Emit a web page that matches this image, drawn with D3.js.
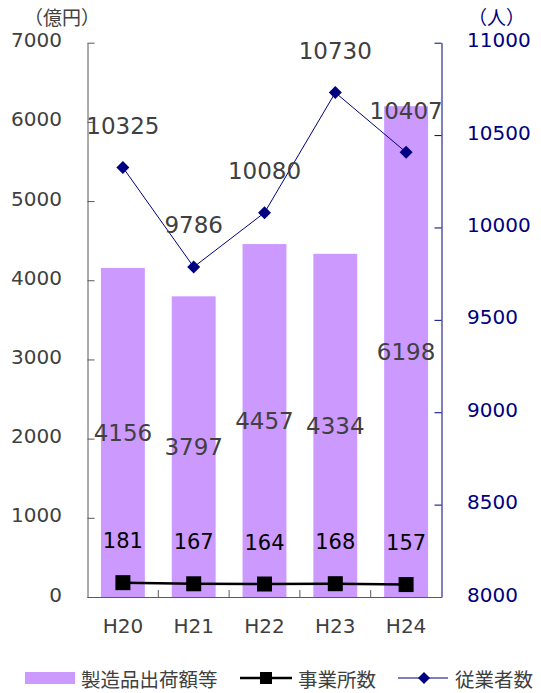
<!DOCTYPE html>
<html><head><meta charset="utf-8">
<script src="https://cdn.jsdelivr.net/npm/d3@7"></script>
<style>html,body{margin:0;padding:0;background:#fff;}</style>
</head><body>
<svg id="chart" width="541" height="693"></svg>
<script>
const categories = ["H20","H21","H22","H23","H24"];
const shipments = [4156, 3797, 4457, 4334, 6198];   // 製造品出荷額等 (億円)
const offices = [181, 167, 164, 168, 157];          // 事業所数
const employees = [10325, 9786, 10080, 10730, 10407]; // 従業者数 (人)
const leftTicks = [0,1000,2000,3000,4000,5000,6000,7000];
const rightTicks = [8000,8500,9000,9500,10000,10500,11000];
const seriesNames = ["製造品出荷額等","事業所数","従業者数"];

const svg = d3.select("#chart");
const L = 87.5, R = 441.5, T = 42.7, B = 597;
const NUM = "'DejaVu Sans', Verdana, sans-serif";
const CJK = "'Noto Sans CJK JP', sans-serif";
const GREY = "#404040", NAVY = "#000080", BAR = "#CC99FF";

const x = d3.scaleBand().domain(categories).range([L, R]).paddingInner(0.38).paddingOuter(0.19);
const yL = d3.scaleLinear().domain([0, 7000]).range([B, T]);
const yR = d3.scaleLinear().domain([8000, 11000]).range([B, T]);
const cx = c => x(c) + x.bandwidth() / 2;

// bars
svg.append("g").selectAll("rect").data(categories).join("rect")
  .attr("x", c => x(c)).attr("width", x.bandwidth())
  .attr("y", (c, i) => yL(shipments[i])).attr("height", (c, i) => B - yL(shipments[i]))
  .attr("fill", BAR);

// left axis
const gl = svg.append("g").attr("transform", `translate(${L},0)`)
  .call(d3.axisLeft(yL).tickValues(leftTicks).tickFormat(d3.format("d")).tickSizeInner(-7).tickSizeOuter(0).tickPadding(25.5));
gl.select(".domain").attr("stroke", "#595959");
gl.selectAll(".tick line").attr("stroke", "#595959");
gl.selectAll(".tick text").attr("fill", GREY).attr("font-family", NUM).attr("font-size", 20).attr("dy", "0.2em");

// right axis
const gr = svg.append("g").attr("transform", `translate(${R},0)`)
  .call(d3.axisRight(yR).tickValues(rightTicks).tickFormat(d3.format("d")).tickSizeInner(-7).tickSizeOuter(0).tickPadding(25.5));
gr.select(".domain").attr("stroke", NAVY);
gr.selectAll(".tick line").attr("stroke", NAVY);
gr.selectAll(".tick text").attr("fill", NAVY).attr("font-family", NUM).attr("font-size", 20).attr("dy", "0.2em");

// bottom axis
const gb = svg.append("g").attr("transform", `translate(0,${B})`)
  .call(d3.axisBottom(x).tickSize(0).tickPadding(22));
gb.select(".domain").attr("stroke", "#595959").attr("d", `M${L},0.5H${R}`);
gb.selectAll(".tick text").attr("fill", GREY).attr("font-family", NUM).attr("font-size", 20).attr("dy", "0.71em");
// category separator ticks (inward)
svg.append("g").selectAll("line").data(categories.slice(1)).join("line")
  .attr("x1", c => x(c) - x.step() * x.paddingInner() / 2)
  .attr("x2", c => x(c) - x.step() * x.paddingInner() / 2)
  .attr("y1", B).attr("y2", B - 7).attr("stroke", "#595959");

// unit titles
svg.append("text").attr("x", 62).attr("y", 16.5).attr("text-anchor", "middle").attr("dominant-baseline", "central")
  .attr("font-family", CJK).attr("font-size", 19).attr("fill", GREY).text("（億円）");
svg.append("text").attr("x", 496.5).attr("y", 16.5).attr("text-anchor", "middle").attr("dominant-baseline", "central")
  .attr("font-family", CJK).attr("font-size", 19).attr("fill", NAVY).text("（人）");

// offices line
const lineO = d3.line().x((d, i) => cx(categories[i])).y(d => yL(d));
svg.append("path").datum(offices).attr("d", lineO).attr("fill", "none").attr("stroke", "#000").attr("stroke-width", 2.5);
svg.append("g").selectAll("rect").data(offices).join("rect")
  .attr("x", (d, i) => cx(categories[i]) - 7.5).attr("y", d => yL(d) - 7.5)
  .attr("width", 15).attr("height", 15).attr("fill", "#000");

// employees line
const lineE = d3.line().x((d, i) => cx(categories[i])).y(d => yR(d));
svg.append("path").datum(employees).attr("d", lineE).attr("fill", "none").attr("stroke", NAVY).attr("stroke-width", 1);
const diamond = (px, py, r) => `M${px},${py - r}L${px + r},${py}L${px},${py + r}L${px - r},${py}Z`;
svg.append("g").selectAll("path").data(employees).join("path")
  .attr("d", (d, i) => diamond(cx(categories[i]), yR(d), 6.5)).attr("fill", NAVY);

// data labels
svg.append("g").selectAll("text").data(shipments).join("text")
  .attr("x", (d, i) => cx(categories[i])).attr("y", d => (yL(d) + B) / 2).attr("dy", "0.36em")
  .attr("text-anchor", "middle").attr("font-family", NUM).attr("font-size", 23).attr("fill", GREY).text(d => d);
svg.append("g").selectAll("text").data(offices).join("text")
  .attr("x", (d, i) => cx(categories[i])).attr("y", d => yL(d) - 42).attr("dy", "0.36em")
  .attr("text-anchor", "middle").attr("font-family", NUM).attr("font-size", 21).attr("fill", "#000").text(d => d);
svg.append("g").selectAll("text").data(employees).join("text")
  .attr("x", (d, i) => cx(categories[i])).attr("y", d => yR(d) - 42).attr("dy", "0.36em")
  .attr("text-anchor", "middle").attr("font-family", NUM).attr("font-size", 23).attr("fill", GREY).text(d => d);

// legend
const LY = 678;
const lg = svg.append("g");
lg.append("rect").attr("x", 25).attr("y", LY - 6).attr("width", 50).attr("height", 12).attr("fill", BAR);
lg.append("text").attr("x", 81).attr("y", LY).attr("dominant-baseline", "central").attr("font-family", CJK).attr("font-size", 19.5).attr("fill", GREY).text(seriesNames[0]);
lg.append("line").attr("x1", 240).attr("x2", 292).attr("y1", LY).attr("y2", LY).attr("stroke", "#000").attr("stroke-width", 2.5);
lg.append("rect").attr("x", 266 - 6).attr("y", LY - 6).attr("width", 12).attr("height", 12).attr("fill", "#000");
lg.append("text").attr("x", 298).attr("y", LY).attr("dominant-baseline", "central").attr("font-family", CJK).attr("font-size", 19.5).attr("fill", GREY).text(seriesNames[1]);
lg.append("line").attr("x1", 398).attr("x2", 448).attr("y1", LY).attr("y2", LY).attr("stroke", NAVY).attr("stroke-width", 1);
lg.append("path").attr("d", diamond(424, LY, 6)).attr("fill", NAVY);
lg.append("text").attr("x", 455).attr("y", LY).attr("dominant-baseline", "central").attr("font-family", CJK).attr("font-size", 19.5).attr("fill", GREY).text(seriesNames[2]);
</script>
</body></html>
